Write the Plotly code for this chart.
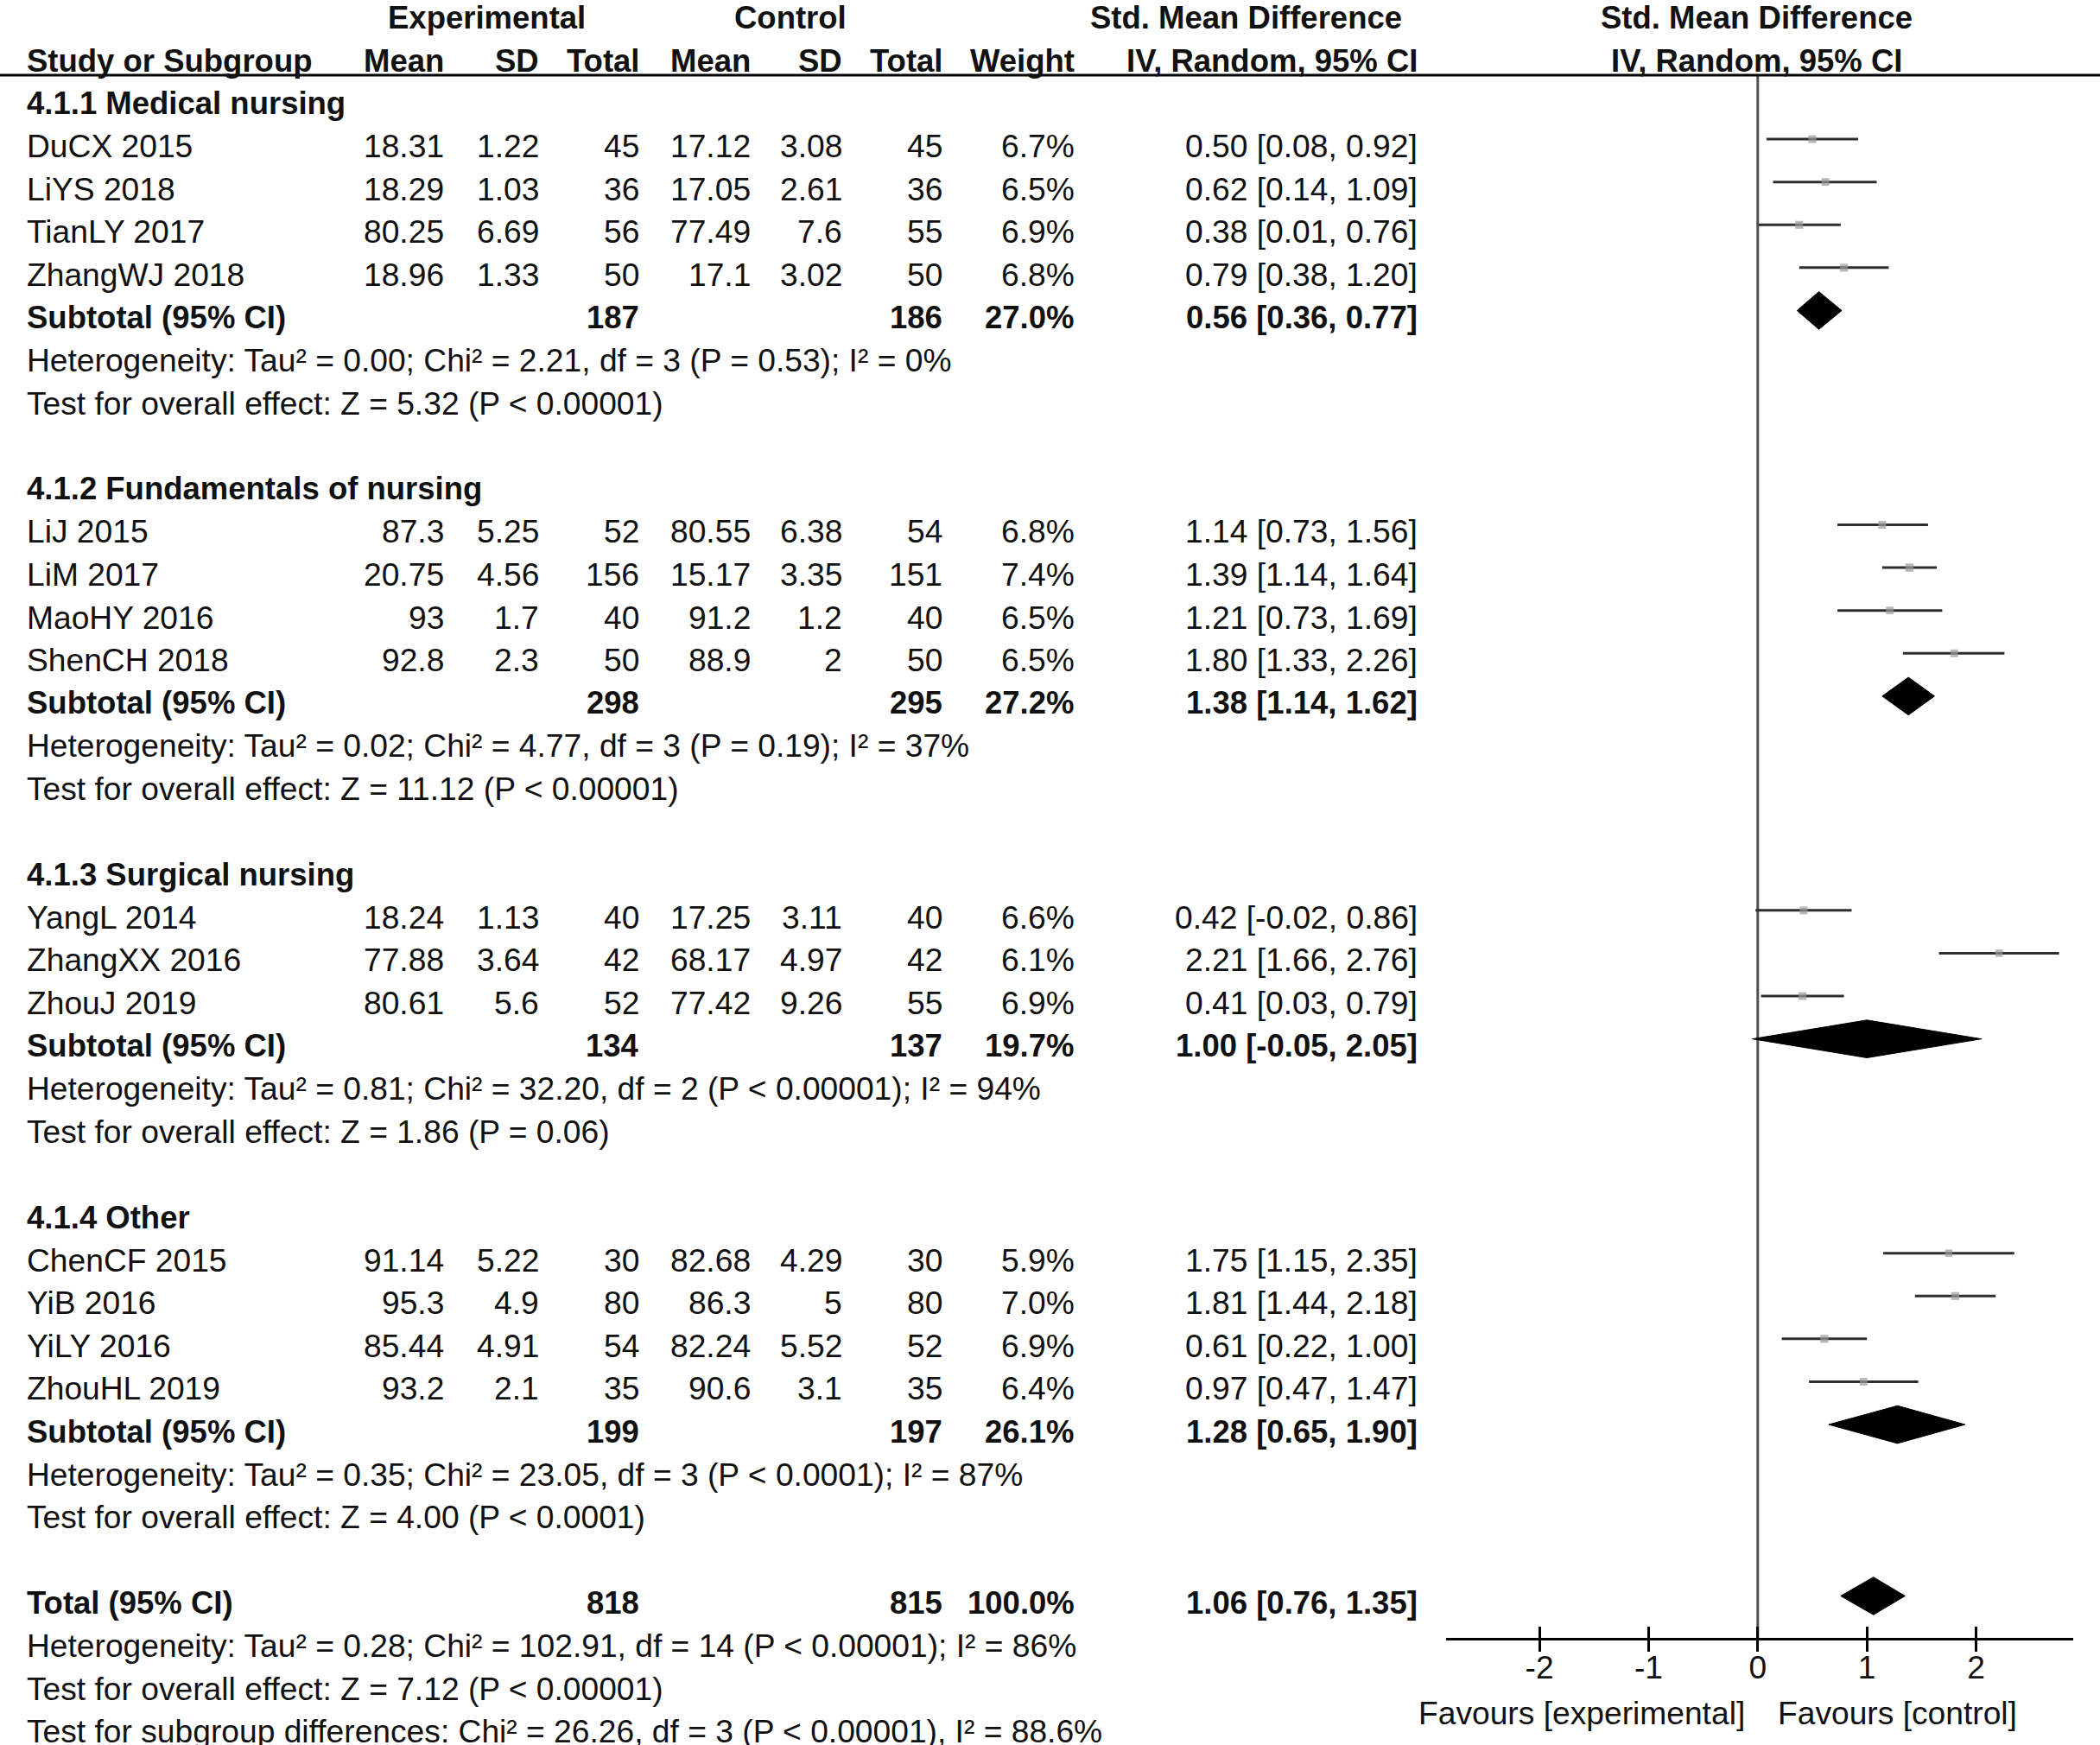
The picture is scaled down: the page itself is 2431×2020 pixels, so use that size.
import plotly.graph_objects as go
import math

# ---------------- data ----------------
group_titles = ["4.1.1 Medical nursing", "4.1.2 Fundamentals of nursing",
                "4.1.3 Surgical nursing", "4.1.4 Other"]

study_names = [
    ["DuCX 2015", "LiYS 2018", "TianLY 2017", "ZhangWJ 2018"],
    ["LiJ 2015", "LiM 2017", "MaoHY 2016", "ShenCH 2018"],
    ["YangL 2014", "ZhangXX 2016", "ZhouJ 2019"],
    ["ChenCF 2015", "YiB 2016", "YiLY 2016", "ZhouHL 2019"],
]
exp_mean = [[18.31, 18.29, 80.25, 18.96], [87.3, 20.75, 93, 92.8],
            [18.24, 77.88, 80.61], [91.14, 95.3, 85.44, 93.2]]
exp_sd = [[1.22, 1.03, 6.69, 1.33], [5.25, 4.56, 1.7, 2.3],
          [1.13, 3.64, 5.6], [5.22, 4.9, 4.91, 2.1]]
exp_n = [[45, 36, 56, 50], [52, 156, 40, 50], [40, 42, 52], [30, 80, 54, 35]]
ctl_mean = [[17.12, 17.05, 77.49, 17.1], [80.55, 15.17, 91.2, 88.9],
            [17.25, 68.17, 77.42], [82.68, 86.3, 82.24, 90.6]]
ctl_sd = [[3.08, 2.61, 7.6, 3.02], [6.38, 3.35, 1.2, 2],
          [3.11, 4.97, 9.26], [4.29, 5, 5.52, 3.1]]
ctl_n = [[45, 36, 55, 50], [54, 151, 40, 50], [40, 42, 55], [30, 80, 52, 35]]
weight = [[6.7, 6.5, 6.9, 6.8], [6.8, 7.4, 6.5, 6.5], [6.6, 6.1, 6.9],
          [5.9, 7.0, 6.9, 6.4]]
smd = [[0.50, 0.62, 0.38, 0.79], [1.14, 1.39, 1.21, 1.80], [0.42, 2.21, 0.41],
       [1.75, 1.81, 0.61, 0.97]]
smd_lo = [[0.08, 0.14, 0.01, 0.38], [0.73, 1.14, 0.73, 1.33], [-0.02, 1.66, 0.03],
          [1.15, 1.44, 0.22, 0.47]]
smd_hi = [[0.92, 1.09, 0.76, 1.20], [1.56, 1.64, 1.69, 2.26], [0.86, 2.76, 0.79],
          [2.35, 2.18, 1.00, 1.47]]

sub_exp_n = [187, 298, 134, 199]
sub_ctl_n = [186, 295, 137, 197]
sub_weight = [27.0, 27.2, 19.7, 26.1]
sub_smd = [0.56, 1.38, 1.00, 1.28]
sub_lo = [0.36, 1.14, -0.05, 0.65]
sub_hi = [0.77, 1.62, 2.05, 1.90]
sub_het = [
    "Heterogeneity: Tau² = 0.00; Chi² = 2.21, df = 3 (P = 0.53); I² = 0%",
    "Heterogeneity: Tau² = 0.02; Chi² = 4.77, df = 3 (P = 0.19); I² = 37%",
    "Heterogeneity: Tau² = 0.81; Chi² = 32.20, df = 2 (P < 0.00001); I² = 94%",
    "Heterogeneity: Tau² = 0.35; Chi² = 23.05, df = 3 (P < 0.0001); I² = 87%",
]
sub_test = [
    "Test for overall effect: Z = 5.32 (P < 0.00001)",
    "Test for overall effect: Z = 11.12 (P < 0.00001)",
    "Test for overall effect: Z = 1.86 (P = 0.06)",
    "Test for overall effect: Z = 4.00 (P < 0.0001)",
]

total_exp_n = 818
total_ctl_n = 815
total_weight = 100.0
total_smd = 1.06
total_lo = 0.76
total_hi = 1.35
total_lines = [
    "Heterogeneity: Tau² = 0.28; Chi² = 102.91, df = 14 (P < 0.00001); I² = 86%",
    "Test for overall effect: Z = 7.12 (P < 0.00001)",
    "Test for subgroup differences: Chi² = 26.26, df = 3 (P < 0.00001), I² = 88.6%",
]

tick_vals = [-2, -1, 0, 1, 2]
tick_text = ["-2", "-1", "0", "1", "2"]
axis_range = [-2.855, 2.89]
favours_left = "Favours [experimental]"
favours_right = "Favours [control]"

# ---------------- layout constants ----------------
W, H = 2431, 2020
ROW0, ROWH = 20.2, 49.6          # pixel centre of row 0, row height
FONT = "Liberation Sans, Arial, Helvetica, sans-serif"
FS = 37.2      # regular text
FSB = 36.5     # bold text
TXT = "#111111"

def px(xp):
    return xp / W

def prow(yp):
    return (yp - ROW0) / ROWH

col_name = px(29)
col_em, col_esd, col_en = px(516), px(626), px(742)
col_cm, col_csd, col_cn = px(871), px(977), px(1093)
col_w, col_ci = px(1246), px(1643)
MARK_OFF = -0.16
DIA_H = 0.44

annotations = []

def txt(x, y, s, anchor="right", bold=False, size=None):
    annotations.append(dict(
        x=x, y=y, xref="paper", yref="y", text=("<b>%s</b>" % s) if bold else s,
        showarrow=False, xanchor=anchor, yanchor="middle",
        font=dict(family=FONT, size=size or (FSB if bold else FS), color=TXT)))

def fmt(v):
    return "%g" % v

# headers
hr0, hr1 = 0.0, 1.02
txt(px(563), hr0, "Experimental", "center", True)
txt(px(915), hr0, "Control", "center", True)
txt(px(1442), hr0, "Std. Mean Difference", "center", True)
txt(px(2033), hr0, "Std. Mean Difference", "center", True)
txt(col_name, hr1, "Study or Subgroup", "left", True)
for c, s in [(col_em, "Mean"), (col_esd, "SD"), (col_en, "Total"),
             (col_cm, "Mean"), (col_csd, "SD"), (col_cn, "Total"),
             (col_w, "Weight"), (col_ci, "IV, Random, 95% CI")]:
    txt(c, hr1, s, "right", True)
txt(px(2033), hr1, "IV, Random, 95% CI", "center", True)

ci_x, ci_y = [], []
mk_x, mk_y, mk_s = [], [], []
diamonds = []

row = 2
for g in range(len(group_titles)):
    txt(col_name, row, group_titles[g], "left", True)
    row += 1
    for k in range(len(study_names[g])):
        txt(col_name, row, study_names[g][k], "left")
        txt(col_em, row, fmt(exp_mean[g][k]))
        txt(col_esd, row, fmt(exp_sd[g][k]))
        txt(col_en, row, fmt(exp_n[g][k]))
        txt(col_cm, row, fmt(ctl_mean[g][k]))
        txt(col_csd, row, fmt(ctl_sd[g][k]))
        txt(col_cn, row, fmt(ctl_n[g][k]))
        txt(col_w, row, "%.1f%%" % weight[g][k])
        txt(col_ci, row, "%.2f [%.2f, %.2f]" % (smd[g][k], smd_lo[g][k], smd_hi[g][k]))
        yy = row + MARK_OFF
        ci_x += [smd_lo[g][k], smd_hi[g][k], None]
        ci_y += [yy, yy, None]
        mk_x.append(smd[g][k])
        mk_y.append(yy)
        mk_s.append(9 * math.sqrt(weight[g][k] / 6.7))
        row += 1
    txt(col_name, row, "Subtotal (95% CI)", "left", True)
    txt(col_en, row, str(sub_exp_n[g]), "right", True)
    txt(col_cn, row, str(sub_ctl_n[g]), "right", True)
    txt(col_w, row, "%.1f%%" % sub_weight[g], "right", True)
    txt(col_ci, row, "%.2f [%.2f, %.2f]" % (sub_smd[g], sub_lo[g], sub_hi[g]), "right", True)
    diamonds.append((sub_lo[g], sub_smd[g], sub_hi[g], row + MARK_OFF))
    row += 1
    txt(col_name, row, sub_het[g], "left")
    row += 1
    txt(col_name, row, sub_test[g], "left")
    row += 2

txt(col_name, row, "Total (95% CI)", "left", True)
txt(col_en, row, str(total_exp_n), "right", True)
txt(col_cn, row, str(total_ctl_n), "right", True)
txt(col_w, row, "%.1f%%" % total_weight, "right", True)
txt(col_ci, row, "%.2f [%.2f, %.2f]" % (total_smd, total_lo, total_hi), "right", True)
diamonds.append((total_lo, total_smd, total_hi, row + MARK_OFF))
row += 1
for s in total_lines:
    txt(col_name, row, s, "left")
    row += 1

# favours labels
fav_row = prow(1983)
txt(px(2022), fav_row, favours_left, "right")
txt(px(2056), fav_row, favours_right, "left")

fig = go.Figure()

fig.add_trace(go.Scatter(x=ci_x, y=ci_y, mode="lines",
                         line=dict(color="#2e2e2e", width=3),
                         hoverinfo="skip", xaxis="x", yaxis="y"))
fig.add_trace(go.Scatter(x=mk_x, y=mk_y, mode="markers",
                         marker=dict(symbol="square", size=mk_s, color="#9a9a9a",
                                     line=dict(width=0)),
                         xaxis="x", yaxis="y"))
for lo, est, hi, yy in diamonds:
    fig.add_trace(go.Scatter(x=[lo, est, hi, est, lo],
                             y=[yy, yy - DIA_H, yy, yy + DIA_H, yy],
                             mode="lines", fill="toself", fillcolor="black",
                             line=dict(color="black", width=1),
                             xaxis="x", yaxis="y"))
# invisible trace for overlay axis
fig.add_trace(go.Scatter(x=[0], y=[20], mode="markers", marker=dict(opacity=0),
                         xaxis="x2", yaxis="y", hoverinfo="skip"))

axis_pos = 1 - 1897 / H
header_line_paper = 1 - 87 / H
xdom = [px(1674), px(2400)]

shapes = [
    dict(type="line", xref="paper", yref="paper", x0=0, x1=1,
         y0=header_line_paper, y1=header_line_paper,
         line=dict(color="black", width=3)),
    dict(type="line", xref="x", yref="paper", x0=0, x1=0,
         y0=axis_pos, y1=header_line_paper,
         line=dict(color="#505050", width=3), layer="below"),
]

fig.update_layout(
    width=W, height=H,
    margin=dict(l=0, r=0, t=0, b=0),
    paper_bgcolor="white", plot_bgcolor="white",
    showlegend=False,
    annotations=annotations,
    shapes=shapes,
    xaxis=dict(domain=xdom, range=axis_range, anchor="free", position=axis_pos,
               showline=True, linecolor="black", linewidth=3,
               ticks="outside", ticklen=13, tickwidth=3, tickcolor="black",
               tickvals=tick_vals, ticktext=tick_text, ticklabelstandoff=-14,
               tickfont=dict(family=FONT, size=FS, color=TXT),
               showgrid=False, zeroline=False, fixedrange=True),
    xaxis2=dict(domain=xdom, range=axis_range, anchor="free", position=axis_pos,
                overlaying="x", showline=False,
                ticks="inside", ticklen=14, tickwidth=3, tickcolor="black",
                tickvals=tick_vals, showticklabels=False,
                showgrid=False, zeroline=False, fixedrange=True),
    yaxis=dict(domain=[0, 1], range=[prow(H), prow(0)], visible=False,
               anchor="free", position=0, fixedrange=True),
)

fig.write_html("out.html",
               config={"displayModeBar": False},
               post_script="document.body.style.margin='0';"
                           "document.body.style.overflow='hidden';")
